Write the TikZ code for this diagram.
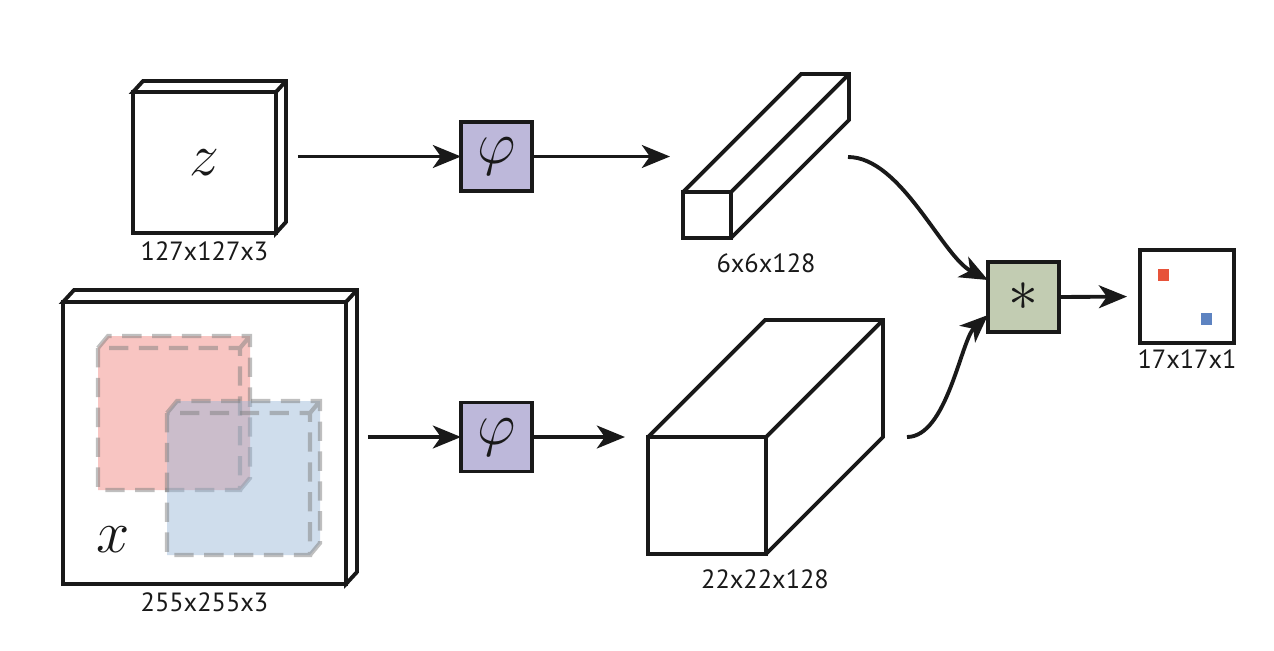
\RequirePackage{fix-cm}
\documentclass[tikz,border=0pt]{standalone}
\usepackage{fontspec}
\setsansfont{PT Sans}
\usetikzlibrary{arrows.meta,positioning}
\definecolor{ink}{RGB}{25,25,25}
\definecolor{phiviolet}{RGB}{189,184,218}
\definecolor{corrgreen}{RGB}{194,204,178}
\definecolor{peakred}{RGB}{231,83,58}
\definecolor{peakblue}{RGB}{93,131,193}
\definecolor{cropred}{RGB}{238,105,95}
\definecolor{cropblue}{RGB}{150,180,215}
\begin{document}
\begin{tikzpicture}[x=0.02cm, y=-0.02cm, line width=2.2pt, color=ink,
    face/.style = {draw, fill=white, rectangle, inner sep=0pt, outer sep=0pt},
    op/.style = {draw, rectangle, inner sep=0pt, outer sep=0pt, minimum width=1.42cm, minimum height=1.38cm, font=\fontsize{34}{34}\selectfont},
    big/.style = {font=\fontsize{34}{34}\selectfont},
    dim/.style = {font=\sffamily\fontsize{15}{15}\selectfont, inner sep=1pt},
    crop/.style = {draw=gray, draw opacity=0.5, line width=2.4pt, dash pattern=on 11pt off 6pt},
    arrow/.style = {line width=2.2pt, -{Stealth[length=16pt, width=13pt, inset=4.5pt]}}]
    \useasboundingbox (0,0) rectangle (1274,650);

    \node[face, big, minimum width=2.86cm, minimum height=2.82cm] (z) at (204.5,162.5) {$z$};
    \draw[fill=white] (z.north west) -- ++(10,-11) -- ++(143,0)
        -- ([shift={(10,-11)}]z.south east) -- (z.south east) -- (z.north east) -- cycle
        (z.north east) -- ++(10,-11);
    \node[dim, below=3pt of z] (zdim) {127x127x3};

    \node[face, minimum width=5.66cm, minimum height=5.64cm] (x) at (204.5,443) {};
    \draw[fill=white] (x.north west) -- ++(11,-12) -- ++(283,0)
        -- ([shift={(11,-12)}]x.south east) -- (x.south east) -- (x.north east) -- cycle
        (x.north east) -- ++(11,-12);
    \fill[cropred, fill opacity=0.38] (98,348) -- ++(10,-12) -- ++(142,0) -- ++(0,142)
        -- ++(-10,12) -- ++(-142,0) -- cycle;
    \draw[crop] (98,348) rectangle (240,490) (98,348) -- ++(10,-12) -| (250,478) -- (240,490)
        (240,348) -- (250,336);
    \fill[cropblue, fill opacity=0.45] (167,413) -- ++(10,-12) -- ++(143,0) -- ++(0,142)
        -- ++(-10,12) -- ++(-143,0) -- cycle;
    \draw[crop] (167,413) rectangle (310,555) (167,413) -- ++(10,-12) -| (320,543) -- (310,555)
        (310,413) -- (320,401);
    \node[big] (xname) at (113,540) {$x$};
    \node[dim, below=3pt of x] (xdim) {255x255x3};

    \node[op, fill=phiviolet] (phiz) at (496.5,156.5) {$\varphi$};
    \node[op, fill=phiviolet] (phix) at (496.5,437) {$\varphi$};

    \node[face, minimum width=0.96cm, minimum height=0.92cm] (fz) at (707,215) {};
    \draw (fz.north west) -- ++(118,-118) -- ++(48,0)
        -- ([shift={(118,-118)}]fz.south east) -- (fz.south east)
        (fz.north east) -- ++(118,-118);
    \node[dim] (fzdim) at (766,263) {6x6x128};

    \node[face, minimum width=2.36cm, minimum height=2.34cm] (fx) at (707,495.5) {};
    \draw (fx.north west) -- ++(117,-117) -- ++(118,0)
        -- ([shift={(117,-117)}]fx.south east) -- (fx.south east)
        (fx.north east) -- ++(117,-117);
    \node[dim] (fxdim) at (765,579) {22x22x128};

    \node[op, fill=corrgreen, minimum height=1.4cm] (corr) at (1023.5,297) {$*$};
    \node[face, minimum width=1.88cm, minimum height=1.86cm] (score) at (1187,296.5) {};
    \fill[peakred] (1158,269) rectangle (1169,281);
    \fill[peakblue] (1201,313) rectangle (1212,325);
    \node[dim, below=2pt of score] (scoredim) {17x17x1};

    \coordinate (fzin) at (670,156.5);
    \coordinate (fxin) at (625,437);
    \coordinate (fzout) at (848,157);
    \coordinate (fxout) at (907,437);

    \draw[arrow, shorten <=0.44cm] (z.east |- phiz.west) -- (phiz.west);
    \draw[arrow] (phiz.east) -- (fzin);
    \draw[arrow, shorten <=0.44cm] (x.east |- phix.west) -- (phix.west);
    \draw[arrow] (phix.east) -- (fxin);
    \draw[arrow] (fzout) .. controls +(53,0) and +(-46,-24) .. ([yshift=0.34cm]corr.west);
    \draw[arrow] (fxout) .. controls +(40,0) and +(-27,25) .. ([yshift=-0.36cm]corr.west);
    \draw[arrow, shorten >=0.26cm] (corr.east) -- (score.west);
\end{tikzpicture}
\end{document}
